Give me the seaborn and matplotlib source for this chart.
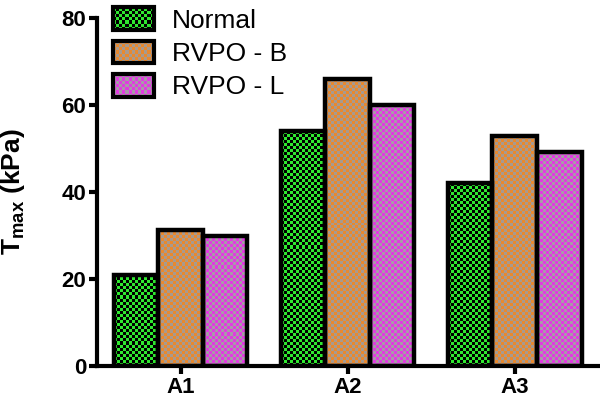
import numpy as np
import pandas as pd
import matplotlib
matplotlib.use("Agg")
import matplotlib.pyplot as plt
import seaborn as sns
from matplotlib.patches import Rectangle
from matplotlib.legend_handler import HandlerBase

groups = ["A1", "A2", "A3"]
series = ["Normal", "RVPO - B", "RVPO - L"]
normal = [21, 54, 42]
rvpo_b = [31.3, 66, 52.8]
rvpo_l = [30, 60, 49.2]
y_ticks = [0, 20, 40, 60, 80]

# checkerboard colours per series: (bright, dark)
checker = {
    "Normal": ("#2fe82f", "#000000"),
    "RVPO - B": ("#e8892f", "#a89a8e"),
    "RVPO - L": ("#e23be2", "#a89aa8"),
}

df = pd.DataFrame({
    "group": groups * 3,
    "series": [s for s in series for _ in groups],
    "value": normal + rvpo_b + rvpo_l,
})

sns.set_style("ticks")
plt.rcParams["font.family"] = ["Liberation Sans", "DejaVu Sans"]
plt.rcParams["mathtext.fontset"] = "custom"
plt.rcParams["mathtext.rm"] = "Liberation Sans"
plt.rcParams["mathtext.bf"] = "Liberation Sans:bold"
for key in ["text.color", "axes.labelcolor", "xtick.color", "ytick.color", "axes.edgecolor"]:
    plt.rcParams[key] = "black"

fig = plt.figure(figsize=(6, 4.04), dpi=100)
ax = fig.add_axes([0.162, 0.094, 0.835, 0.861])

sns.barplot(data=df, x="group", y="value", hue="series", hue_order=series,
            palette=[checker[s][0] for s in series], edgecolor="black",
            linewidth=3.2, width=0.8, legend=False, ax=ax)

ax.set_xlim(-0.5, 2.5)
ax.set_ylim(0, 80)
ax.set_yticks(y_ticks)

CELL = 3.0  # pixels per checker square


def checker_array(nx, ny, c1, c2):
    a = np.array(matplotlib.colors.to_rgb(c1))
    b = np.array(matplotlib.colors.to_rgb(c2))
    mask = (np.add.outer(np.arange(ny), np.arange(nx)) % 2).astype(bool)
    return np.where(mask[..., None], b, a)


for s, cont in zip(series, ax.containers):
    c1, c2 = checker[s]
    for patch in cont:
        x0, y0 = patch.get_x(), patch.get_y()
        x1, y1 = x0 + patch.get_width(), y0 + patch.get_height()
        p0 = ax.transData.transform((x0, y0))
        p1 = ax.transData.transform((x1, y1))
        nx = max(1, int(round((p1[0] - p0[0]) / CELL)))
        ny = max(1, int(round((p1[1] - p0[1]) / CELL)))
        im = ax.imshow(checker_array(nx, ny, c1, c2), extent=(x0, x1, y0, y1),
                       origin="lower", interpolation="nearest", aspect="auto",
                       zorder=patch.get_zorder() - 0.1)
        im.set_clip_path(patch)
        patch.set_facecolor("none")

ax.set_xlim(-0.5, 2.5)
ax.set_ylim(0, 80)


class CheckerHandler(HandlerBase):
    def __init__(self, c1, c2):
        super().__init__()
        self.c1, self.c2 = c1, c2

    def create_artists(self, legend, orig_handle, xdescent, ydescent,
                       width, height, fontsize, trans):
        cell = CELL * 72 / fig.dpi
        x0, y0 = -xdescent, -ydescent
        nx = int(width / cell)
        ny = int(height / cell)
        cw, ch = width / nx, height / ny
        arts = [Rectangle((x0, y0), width, height, facecolor=self.c2,
                          edgecolor="none", transform=trans)]
        for i in range(ny):
            for j in range(nx):
                if (i + j) % 2 == 0:
                    arts.append(Rectangle((x0 + j * cw, y0 + i * ch), cw, ch,
                                          facecolor=self.c1, edgecolor="none",
                                          transform=trans))
        arts.append(Rectangle((x0, y0), width, height, facecolor="none",
                              edgecolor="black", linewidth=3, transform=trans))
        return arts


handles = [Rectangle((0, 0), 1, 1) for _ in series]
hmap = {h: CheckerHandler(*checker[s]) for h, s in zip(handles, series)}
ax.legend(handles, series, handler_map=hmap, loc="upper left",
          bbox_to_anchor=(0.188, 0.982), bbox_transform=fig.transFigure,
          frameon=False, fontsize=19, handlelength=1.55, handleheight=0.95,
          labelspacing=0.3, handletextpad=0.7, borderpad=0, borderaxespad=0)

for side in ["top", "right"]:
    ax.spines[side].set_visible(False)
for side in ["left", "bottom"]:
    ax.spines[side].set_linewidth(3)
ax.tick_params(axis="both", width=3, length=6, labelsize=16, pad=2)
for lab in ax.get_xticklabels() + ax.get_yticklabels():
    lab.set_fontweight("bold")

ax.set_xlabel("")
ax.set_ylabel(r"T$_{\mathbf{max}}$ (kPa)", fontsize=19, fontweight="bold")
ax.yaxis.set_label_coords(-0.14, 0.5)

fig.savefig("out.png", dpi=100)
